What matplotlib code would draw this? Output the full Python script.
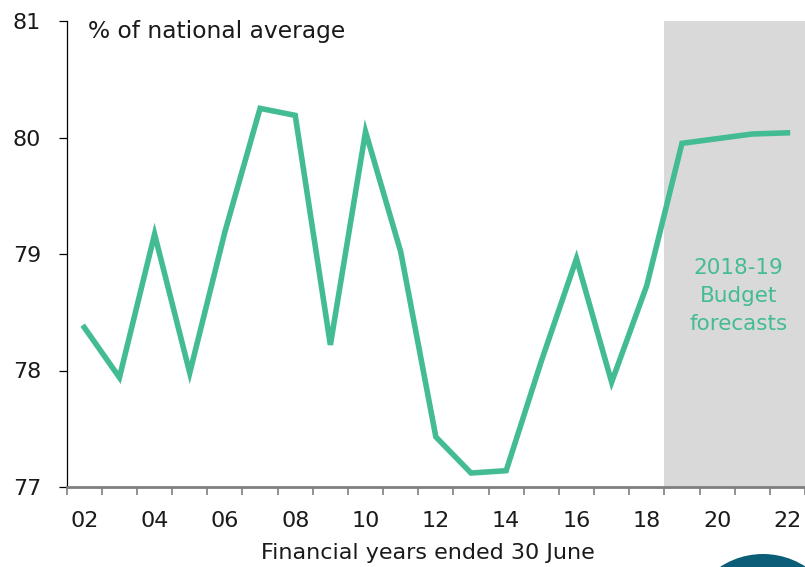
import matplotlib
matplotlib.use("Agg")
import matplotlib.pyplot as plt
from matplotlib.patches import Ellipse

plt.rcParams['font.family'] = ['DejaVu Sans']

# ---- data ----
years = ['02', '03', '04', '05', '06', '07', '08', '09', '10', '11', '12',
         '13', '14', '15', '16', '17', '18', '19', '20', '21', '22']
share = [78.37, 77.94, 79.17, 77.98, 79.19, 80.25, 80.19, 78.22, 80.05, 79.02,
         77.43, 77.12, 77.14, 78.08, 78.96, 77.90, 78.73, 79.95, 79.99, 80.03, 80.04]
forecast_start = '19'

green = '#43BC93'
grey_axis = '#7F7F7F'

W, H = 805, 567
fig = plt.figure(figsize=(W / 100, H / 100), dpi=100)
ax_left, ax_right = 66.7, 805
ax_top, ax_bot = 21, 487
ax = fig.add_axes([ax_left / W, 1 - ax_bot / H, (ax_right - ax_left) / W, (ax_bot - ax_top) / H])

x = list(range(len(years)))
cat_w = 35.42
x_max = -0.5 + (ax_right - ax_left) / cat_w

# forecast shading
fs = years.index(forecast_start)
ax.axvspan(fs - 0.5, x_max + 1, color='#D9D9D9', lw=0, zorder=0)

ax.plot(x, share, color=green, lw=4, solid_joinstyle='miter', zorder=3)

ax.set_xlim(-0.5, x_max)
ax.set_ylim(77, 81)

# y axis
ax.set_yticks([77, 78, 79, 80, 81])
ax.tick_params(axis='y', length=6, width=0.9, color='black', labelsize=16, pad=12.5,
               labelcolor='#1A1A1A')
ax.spines['left'].set_linewidth(0.9)
ax.spines['left'].set_color('black')

# x axis: boundary ticks, labels at every other category centre
ax.set_xticks([i - 0.5 for i in range(len(years) + 1)])
ax.set_xticklabels([])
ax.set_xticks(x[::2], minor=True)
ax.set_xticklabels(years[::2], minor=True)
ax.tick_params(axis='x', which='major', length=6, width=1.2, color=grey_axis)
ax.tick_params(axis='x', which='minor', length=0, labelsize=16, pad=17,
               labelcolor='#1A1A1A')
ax.spines['bottom'].set_linewidth(2)
ax.spines['bottom'].set_color(grey_axis)
ax.spines['top'].set_visible(False)
ax.spines['right'].set_visible(False)
ax.set_facecolor('none')

ax.text(0.1, 80.91, '% of national average', fontsize=16.8, color='#1A1A1A',
        ha='left', va='center')
ax.text(18.6, 78.64, '2018-19\nBudget\nforecasts', fontsize=15.5, color=green,
        ha='center', va='center', linespacing=1.5)

fig.text(428 / W, 1 - 553 / H, 'Financial years ended 30 June', fontsize=16,
         color='#1A1A1A', ha='center', va='center')

# logo fragment bottom right
r = 78
fig.patches.append(Ellipse((763 / W, 1 - 632 / H), 2 * r / W, 2 * r / H,
                           transform=fig.transFigure, color='#0C5E78', lw=0))

fig.savefig('out.png', dpi=100, facecolor='white')
